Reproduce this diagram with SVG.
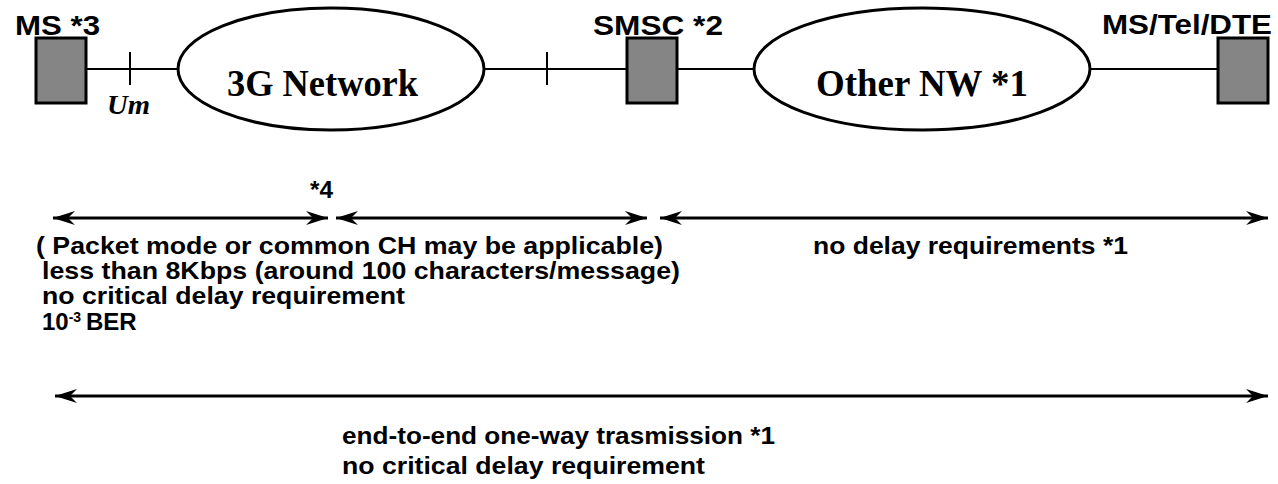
<svg xmlns="http://www.w3.org/2000/svg" width="1278" height="484" viewBox="0 0 1278 484">
<style>
.box{fill:#858585;stroke:#000;stroke-width:3}
.ell{fill:#fff;stroke:#000;stroke-width:3}
.ln{stroke:#000;stroke-width:2;fill:none}
.arr{stroke:#000;stroke-width:3;fill:none;marker-start:url(#ah);marker-end:url(#ah)}
.lbl{font-family:"Liberation Sans",Arial,sans-serif;font-weight:bold;font-size:28px;fill:#000}
.net{font-family:"Liberation Serif","Times New Roman",serif;font-weight:bold;font-size:38px;fill:#000}
.txt{font-family:"Liberation Sans",Arial,sans-serif;font-weight:bold;font-size:24px;fill:#000}
.sup{font-size:14px}
</style>
<defs>
<marker id="ah" viewBox="0 -8 22 16" refX="22" refY="0" markerWidth="22" markerHeight="16" markerUnits="userSpaceOnUse" orient="auto-start-reverse">
<path d="M22,0 L0,-7 L7,0 L0,7 Z" fill="#000"/>
</marker>
</defs>
<g id="connectors">
<line class="ln" x1="87" y1="69" x2="178" y2="69"/>
<line class="ln" x1="130" y1="52" x2="130" y2="85"/>
<line class="ln" x1="485" y1="69" x2="627" y2="69"/>
<line class="ln" x1="547" y1="52" x2="547" y2="85"/>
<line class="ln" x1="678" y1="69" x2="755" y2="69"/>
<line class="ln" x1="1090" y1="69" x2="1218" y2="69"/>
<line class="arr" x1="53" y1="218" x2="328" y2="218"/>
<line class="arr" x1="336" y1="218" x2="647" y2="218"/>
<line class="arr" x1="660" y1="218" x2="1268" y2="218"/>
<line class="arr" x1="55" y1="396" x2="1268" y2="396"/>
</g>
<g id="ms">
<rect class="box" x="36" y="38" width="50" height="65"/>
<text class="lbl" x="15" y="35" textLength="85" lengthAdjust="spacingAndGlyphs">MS *3</text>
<text x="107" y="114" font-family="Liberation Serif,'Times New Roman',serif" font-weight="bold" font-style="italic" font-size="27" textLength="43" lengthAdjust="spacingAndGlyphs">Um</text>
</g>
<g id="net3g">
<ellipse class="ell" cx="331" cy="69" rx="153" ry="61"/>
<text class="net" x="227" y="96" textLength="191" lengthAdjust="spacingAndGlyphs">3G Network</text>
</g>
<g id="smsc">
<rect class="box" x="627" y="38" width="50" height="65"/>
<text class="lbl" x="593" y="35" textLength="130" lengthAdjust="spacingAndGlyphs">SMSC *2</text>
</g>
<g id="othernw">
<ellipse class="ell" cx="922" cy="69" rx="168" ry="61"/>
<text class="net" x="816" y="96" textLength="212" lengthAdjust="spacingAndGlyphs">Other NW *1</text>
</g>
<g id="dte">
<rect class="box" x="1218" y="38" width="50" height="65"/>
<text class="lbl" x="1102" y="34" textLength="170" lengthAdjust="spacingAndGlyphs">MS/Tel/DTE</text>
</g>
<g id="notes">
<text class="txt" x="310" y="198" textLength="23" lengthAdjust="spacingAndGlyphs">*4</text>
<text class="txt" x="36" y="254" textLength="627" lengthAdjust="spacingAndGlyphs">( Packet mode or common CH may be applicable)</text>
<text class="txt" x="42" y="279" textLength="638" lengthAdjust="spacingAndGlyphs">less than 8Kbps (around 100 characters/message)</text>
<text class="txt" x="42" y="304" textLength="363" lengthAdjust="spacingAndGlyphs">no critical delay requirement</text>
<text class="txt" x="42" y="330">10<tspan class="sup" dy="-8">-3</tspan><tspan x="86" y="330">BER</tspan></text>
<text class="txt" x="813" y="254" textLength="315" lengthAdjust="spacingAndGlyphs">no delay requirements *1</text>
<text class="txt" x="342" y="444" textLength="433" lengthAdjust="spacingAndGlyphs">end-to-end one-way trasmission *1</text>
<text class="txt" x="342" y="474" textLength="363" lengthAdjust="spacingAndGlyphs">no critical delay requirement</text>
</g>
</svg>
